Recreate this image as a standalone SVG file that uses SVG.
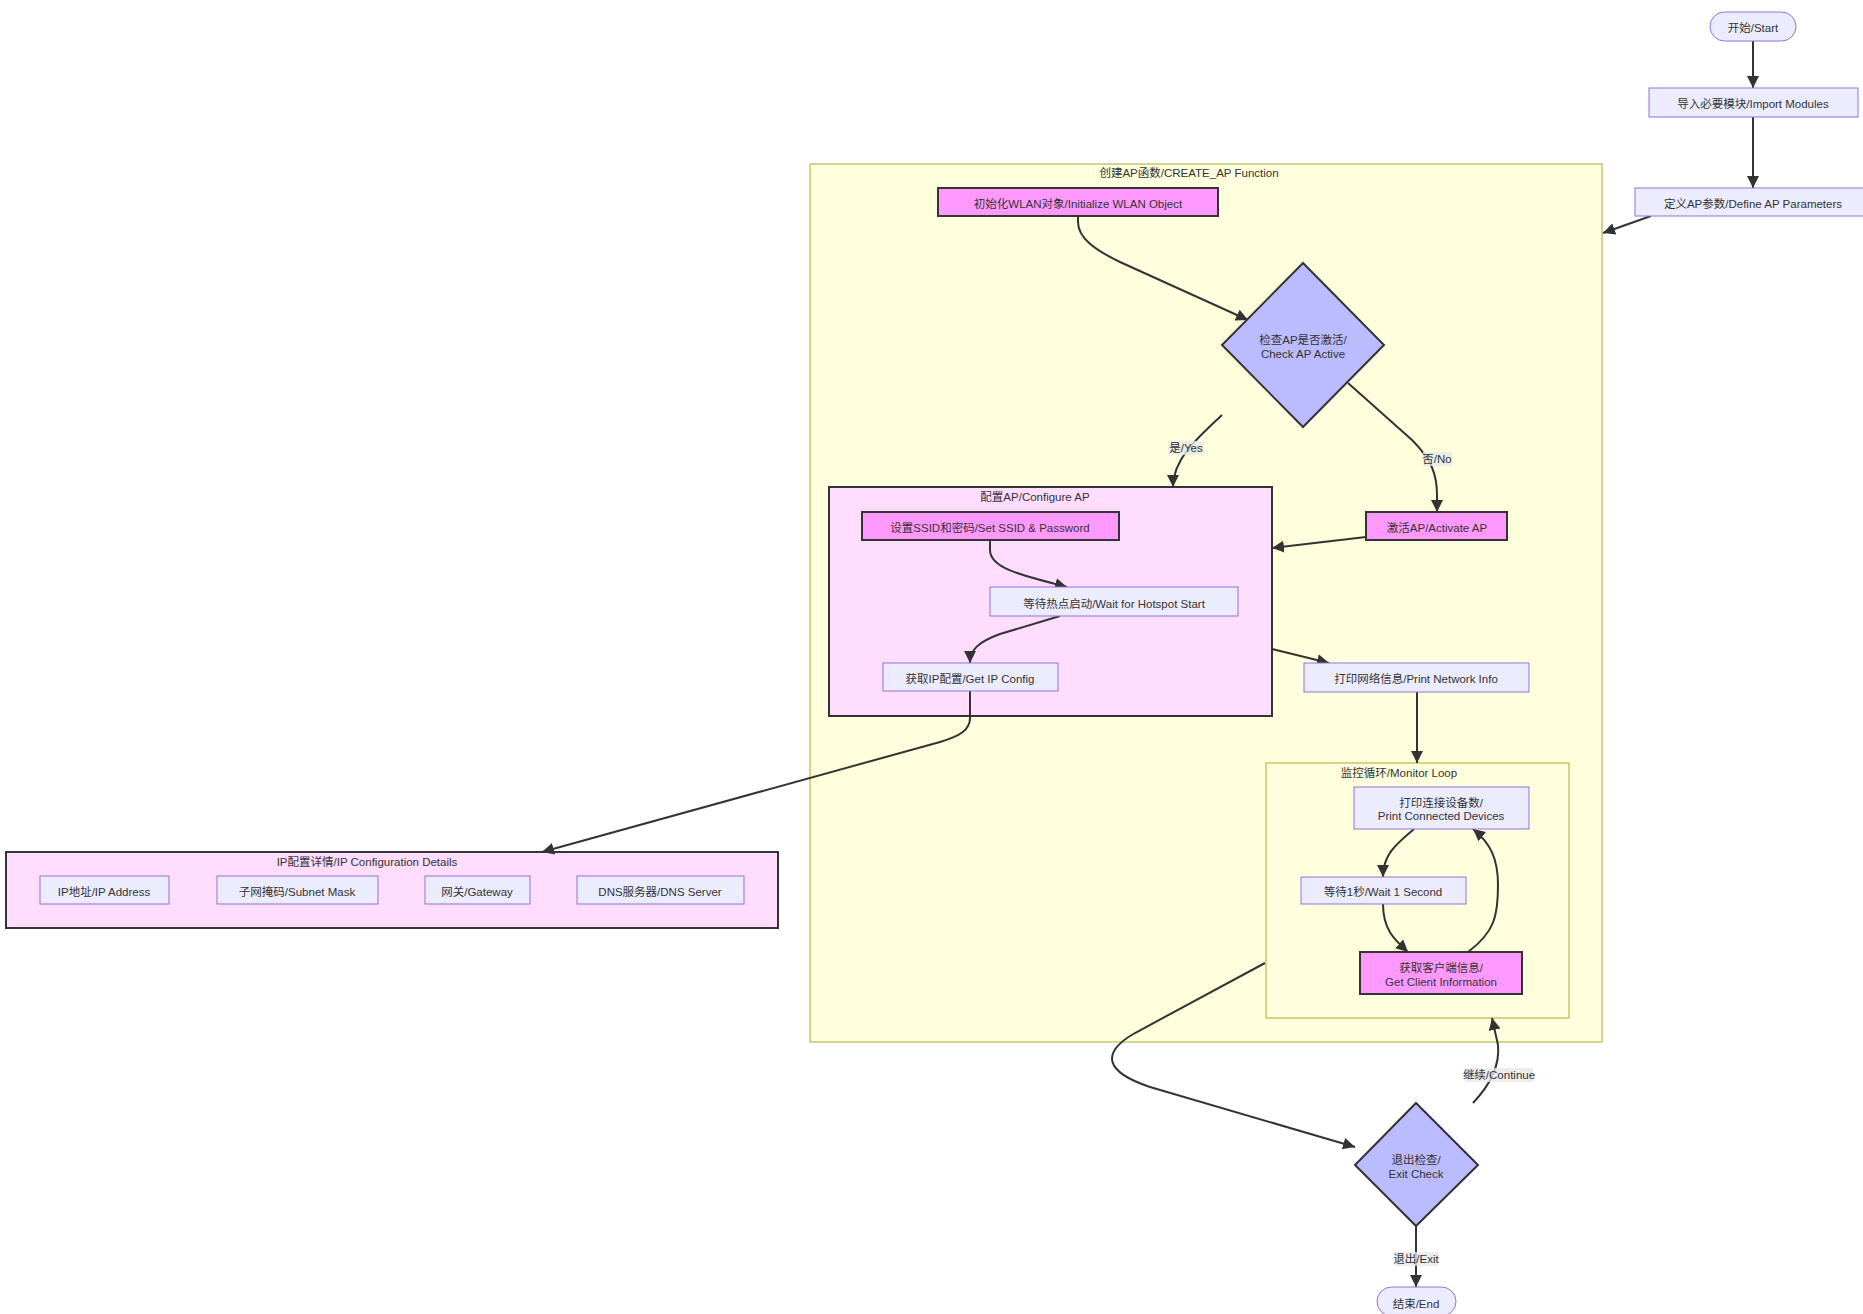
<svg xmlns="http://www.w3.org/2000/svg" width="1863" height="1314" viewBox="0 0 1863 1314">
<defs>
<marker id="arr" markerUnits="userSpaceOnUse" markerWidth="12" markerHeight="12" viewBox="0 0 10 10" refX="10" refY="5" orient="auto">
<path d="M0,0 L10,5 L0,10 z" fill="#333"/>
</marker>
</defs>
<style>
text{font-family:"Liberation Sans",Arial,"Noto Sans CJK SC",sans-serif;font-size:11.5px;fill:#333;text-anchor:middle;dominant-baseline:central}
.cl{fill:#ffffde;stroke:#aaaa33;stroke-width:1}
.cp{fill:#ffddff;stroke:#333;stroke-width:2}
.n{fill:#ececff;stroke:#9370db;stroke-width:1}
.m{fill:#ff99ff;stroke:#333;stroke-width:2}
.d{fill:#bbbbff;stroke:#333;stroke-width:2}
.e{fill:none;stroke:#333;stroke-width:2;marker-end:url(#arr)}
.lb{fill:#e8e8e8;opacity:0.8}
</style>
<rect width="1863" height="1314" fill="#ffffff"/>

<g id="cluster-create-ap">
<rect class="cl" x="810" y="164" width="792" height="878"/>
<text x="1189" y="173">创建AP函数/CREATE_AP Function</text>
</g>
<g id="cluster-configure-ap">
<rect class="cp" x="829" y="487" width="443" height="229"/>
<text x="1035" y="497">配置AP/Configure AP</text>
</g>
<g id="cluster-monitor-loop">
<rect class="cl" x="1266" y="763" width="303" height="255"/>
<text x="1399" y="773">监控循环/Monitor Loop</text>
</g>
<g id="cluster-ip-details">
<rect class="cp" x="6" y="852" width="772" height="76"/>
<text x="367" y="862">IP配置详情/IP Configuration Details</text>
</g>

<g id="connectors">
<path class="e" d="M1753,41 L1753,88"/>
<path class="e" d="M1753,117 L1753,188"/>
<path class="e" d="M1651,216 L1603,233"/>
<path class="e" d="M1078,216 L1078,222 C1078,238 1095,250 1120,262 L1248,320"/>
<path class="e" d="M1222,415 C1195,440 1173,460 1173,487"/>
<path class="e" d="M1348,383 L1412,440 C1432,460 1437,475 1437,495 L1437,512"/>
<path class="e" d="M1366,537 L1272,548"/>
<path class="e" d="M990,540 L990,550 C990,568 1020,575 1067,587"/>
<path class="e" d="M1060,616 L1000,634 C978,642 970,650 970,663"/>
<path class="e" d="M970,691 L970,718 C970,730 960,736 940,742 L542,852"/>
<path class="e" d="M1272,649 L1329,663"/>
<path class="e" d="M1417,692 L1417,763"/>
<path class="e" d="M1414,829 C1395,845 1383,855 1383,877"/>
<path class="e" d="M1383,904 C1383,930 1395,940 1408,952"/>
<path class="e" d="M1468,952 C1495,932 1498,915 1498,885 C1498,858 1490,843 1473,829"/>
<path class="e" d="M1265,963 L1135,1033 C1100,1053 1105,1072 1150,1087 L1355,1147"/>
<path class="e" d="M1473,1103 C1490,1085 1500,1065 1498,1045 L1492,1018"/>
<path class="e" d="M1416,1226 L1416,1287"/>
</g>

<g id="edge-labels">
<rect class="lb" x="1168" y="441" width="36" height="14"/>
<text x="1186" y="448">是/Yes</text>
<rect class="lb" x="1423" y="452" width="29" height="14"/>
<text x="1437" y="459">否/No</text>
<rect class="lb" x="1465" y="1068" width="68" height="14"/>
<text x="1499" y="1075">继续/Continue</text>
<rect class="lb" x="1395" y="1252" width="43" height="14"/>
<text x="1416" y="1259">退出/Exit</text>
</g>

<g id="node-start">
<rect class="n" x="1710" y="12" width="86" height="29" rx="14.5"/>
<text x="1753" y="28">开始/Start</text>
</g>
<g id="node-import">
<rect class="n" x="1649" y="88" width="209" height="29"/>
<text x="1753" y="104">导入必要模块/Import Modules</text>
</g>
<g id="node-define">
<rect class="n" x="1635" y="188" width="236" height="28"/>
<text x="1753" y="204">定义AP参数/Define AP Parameters</text>
</g>
<g id="node-init-wlan">
<rect class="m" x="938" y="188" width="280" height="28"/>
<text x="1078" y="204">初始化WLAN对象/Initialize WLAN Object</text>
</g>
<g id="node-check-ap">
<polygon class="d" points="1303,263 1384,345 1303,427 1222,345"/>
<text x="1303" y="340">检查AP是否激活/</text>
<text x="1303" y="354">Check AP Active</text>
</g>
<g id="node-activate-ap">
<rect class="m" x="1366" y="512" width="141" height="28"/>
<text x="1437" y="528">激活AP/Activate AP</text>
</g>
<g id="node-set-ssid">
<rect class="m" x="862" y="512" width="257" height="28"/>
<text x="990" y="528">设置SSID和密码/Set SSID &amp; Password</text>
</g>
<g id="node-wait-hotspot">
<rect class="n" x="990" y="587" width="248" height="29"/>
<text x="1114" y="604">等待热点启动/Wait for Hotspot Start</text>
</g>
<g id="node-get-ip">
<rect class="n" x="883" y="663" width="175" height="28"/>
<text x="970" y="679">获取IP配置/Get IP Config</text>
</g>
<g id="node-print-net">
<rect class="n" x="1304" y="663" width="225" height="29"/>
<text x="1416" y="679">打印网络信息/Print Network Info</text>
</g>
<g id="node-print-devices">
<rect class="n" x="1354" y="787" width="175" height="42"/>
<text x="1441" y="803">打印连接设备数/</text>
<text x="1441" y="816">Print Connected Devices</text>
</g>
<g id="node-wait-1s">
<rect class="n" x="1301" y="877" width="165" height="27"/>
<text x="1383" y="892">等待1秒/Wait 1 Second</text>
</g>
<g id="node-get-client">
<rect class="m" x="1360" y="952" width="162" height="42"/>
<text x="1441" y="968">获取客户端信息/</text>
<text x="1441" y="982">Get Client Information</text>
</g>
<g id="node-exit-check">
<polygon class="d" points="1416,1103 1478,1165 1416,1226 1355,1165"/>
<text x="1416" y="1160">退出检查/</text>
<text x="1416" y="1174">Exit Check</text>
</g>
<g id="node-end">
<rect class="n" x="1377" y="1287" width="79" height="29" rx="14.5"/>
<text x="1416" y="1304">结束/End</text>
</g>
<g id="node-ip-address">
<rect class="n" x="40" y="876" width="129" height="28"/>
<text x="104" y="892">IP地址/IP Address</text>
</g>
<g id="node-subnet">
<rect class="n" x="217" y="876" width="161" height="28"/>
<text x="297" y="892">子网掩码/Subnet Mask</text>
</g>
<g id="node-gateway">
<rect class="n" x="425" y="876" width="105" height="28"/>
<text x="477" y="892">网关/Gateway</text>
</g>
<g id="node-dns">
<rect class="n" x="577" y="876" width="167" height="28"/>
<text x="660" y="892">DNS服务器/DNS Server</text>
</g>
</svg>
